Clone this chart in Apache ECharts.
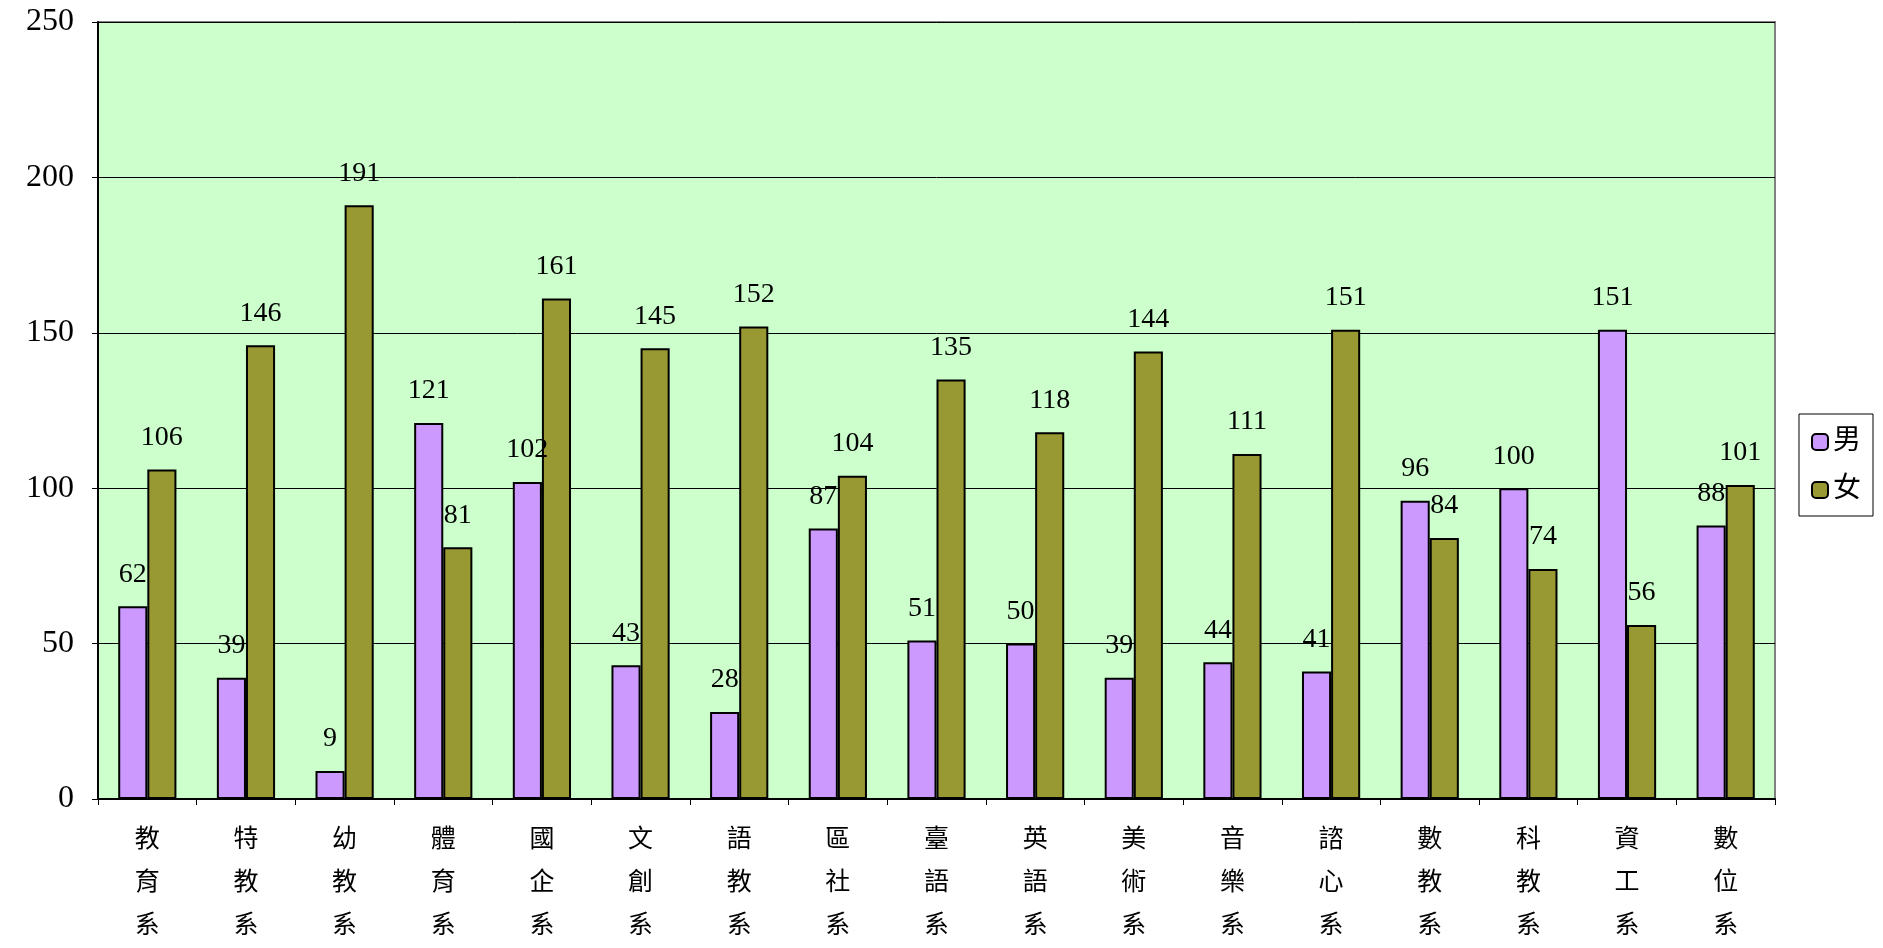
<!DOCTYPE html>
<html><head><meta charset="utf-8">
<script src="https://cdn.jsdelivr.net/npm/echarts@6/dist/echarts.min.js"></script>
<style>html,body{margin:0;padding:0;background:#fff}#c{width:1883px;height:948px}</style>
</head><body><div id="c"></div>
<script>
var categories = ['教育系','特教系','幼教系','體育系','國企系','文創系','語教系','區社系','臺語系','英語系','美術系','音樂系','諮心系','數教系','科教系','資工系','數位系'];
var male = [62,39,9,121,102,43,28,87,51,50,39,44,41,96,100,151,88];
var female = [106,146,191,81,161,145,152,104,135,118,144,111,151,84,74,56,101];

var chart = echarts.init(document.getElementById('c'));
var font = '"Liberation Serif", "Noto Sans CJK TC", serif';
var lbl = {show:true, position:'top', distance:18, color:'#000', fontSize:28, fontFamily:font};
chart.setOption({
  animation:false,
  grid:{left:98, right:108, top:22, bottom:147, show:true, backgroundColor:'#ccffcc', borderColor:'#808080', borderWidth:2},
  legend:{orient:'vertical', right:10, top:414, itemWidth:16, itemHeight:16, itemGap:20,
    padding:[14,12,12,12], borderColor:'#000', borderWidth:1, backgroundColor:'#fff',
    textStyle:{fontSize:28, fontFamily:font, color:'#000'},
    data:['男','女']},
  xAxis:{type:'category', data:categories,
    axisLine:{lineStyle:{color:'#000', width:2}}, axisTick:{show:true, length:6, lineStyle:{color:'#000'}},
    axisLabel:{color:'#000', fontSize:25, fontFamily:font, lineHeight:43, margin:20,
      formatter:function(v){return v.split('').join('\n');}}},
  yAxis:{type:'value', min:0, max:250, interval:50,
    axisLine:{show:true, lineStyle:{color:'#000', width:2}}, axisTick:{show:true, length:6, lineStyle:{color:'#000'}},
    splitLine:{lineStyle:{color:'#000', width:1}},
    axisLabel:{color:'#000', fontSize:32, fontFamily:font, margin:24}},
  series:[
    {name:'男', type:'bar', data:male, barGap:'0%', barCategoryGap:'41%',
     itemStyle:{color:'#cc99ff', borderColor:'#000', borderWidth:2}, label:lbl},
    {name:'女', type:'bar', data:female,
     itemStyle:{color:'#999933', borderColor:'#000', borderWidth:2}, label:lbl}
  ]
});
</script></body></html>
